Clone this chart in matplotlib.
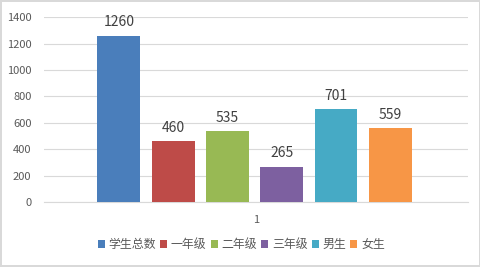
import numpy as np
import matplotlib
matplotlib.use("Agg")
from matplotlib import pyplot as plt

plt.rcParams['font.family'] = ['Noto Sans CJK SC', 'DejaVu Sans']

names = ["学生总数", "一年级", "二年级", "三年级", "男生", "女生"]
values = [1260, 460, 535, 265, 701, 559]
colors = ["#4a7ebb", "#be4b48", "#98b954", "#7d60a0", "#46aac5", "#f79646"]
category = "1"
yticks = [0, 200, 400, 600, 800, 1000, 1200, 1400]

fig = plt.figure(figsize=(4.81, 2.67), dpi=100)
fig.patch.set_edgecolor("#d9d9d9")
fig.patch.set_linewidth(1.5)
ax = fig.add_axes([0.0915, 0.2434, 0.8815, 0.6926])

step = 0.128
width = 0.101
for i, (name, v, c) in enumerate(zip(names, values, colors)):
    x = (i - 2.5) * step - 0.0035
    ax.bar(x, v, width=width, color=c, label=name, zorder=3)
    ax.text(x, v + 50, str(v), ha="center", va="bottom", fontsize=10, color="#404040")

ax.set_xlim(-0.5, 0.5)
ax.set_ylim(0, 1400)
ax.set_yticks(yticks)
ax.set_xticks([0])
ax.set_xticklabels([category])
ax.grid(axis="y", color="#d9d9d9", linewidth=0.8, zorder=0)
for s in ["top", "right", "left"]:
    ax.spines[s].set_visible(False)
ax.spines["bottom"].set_color("#d9d9d9")
ax.tick_params(axis="both", length=0, colors="#595959", labelsize=8)
ax.tick_params(axis="y", pad=9)
ax.tick_params(axis="x", pad=9)

ax.legend(loc="center", bbox_to_anchor=(0.465, -0.23), ncol=6, frameon=False,
          fontsize=8.6, handlelength=0.6, handleheight=0.6, handletextpad=0.3,
          columnspacing=0.35, labelcolor="#595959")

fig.savefig("out.png", dpi=100, edgecolor=fig.get_edgecolor())
